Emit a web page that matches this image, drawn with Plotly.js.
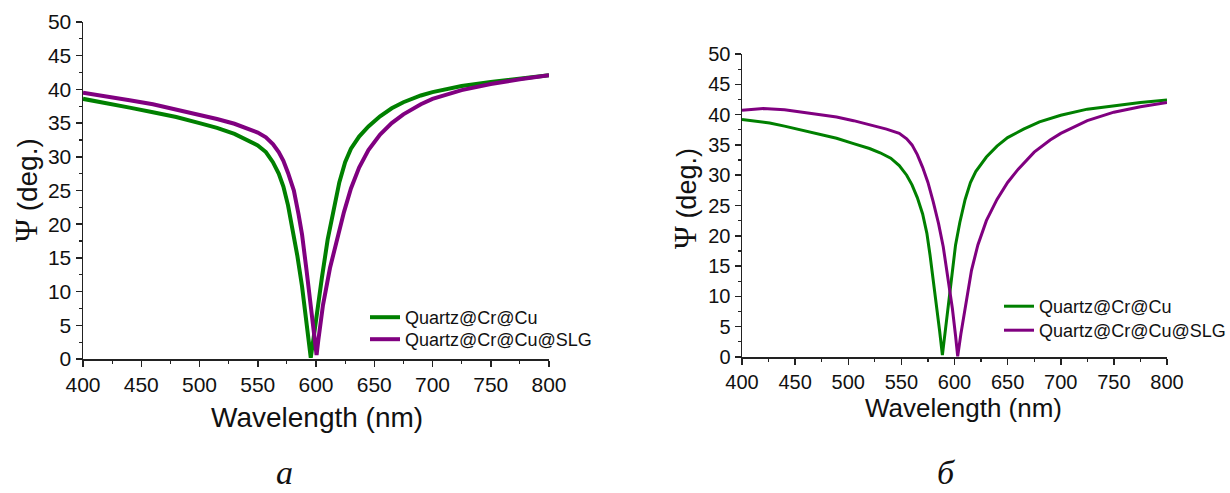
<!DOCTYPE html>
<html>
<head>
<meta charset="utf-8">
<script src="https://cdn.plot.ly/plotly-3.0.1.min.js"></script>
<style>html,body{margin:0;padding:0;background:#fff;}#chart{width:1230px;height:493px;}</style>
</head>
<body>
<div id="chart"></div>
<script>
// ---- Panel (а) data ----
const wlA_green = [400,420,440,460,480,500,515,530,540,550,557,563,568,572,576,580,584,588,592,595.5,598,601,605,610,615,620,625,630,637,645,655,665,675,690,700,725,750,775,800];
const psiA_green = [38.6,38.0,37.3,36.6,35.9,35.0,34.3,33.4,32.6,31.7,30.7,29.2,27.5,25.6,22.8,19.4,15.3,10.8,5.5,0.2,3.2,7.5,12.0,17.7,22.3,26.2,29.2,31.2,33.0,34.5,36.0,37.2,38.1,39.1,39.6,40.5,41.1,41.6,42.1];
const wlA_purple = [400,420,440,460,480,500,515,530,540,550,557,563,568,572,576,581,585,588,592,596,599,600.5,602,606,612,618,624,630,637,645,655,665,675,690,700,725,750,775,800];
const psiA_purple = [39.5,39.0,38.4,37.8,37.0,36.3,35.6,34.9,34.3,33.6,32.9,31.9,30.7,29.4,27.6,25.0,21.5,18.5,13.0,6.8,2.5,0.6,2.8,8.0,13.5,17.7,21.8,25.3,28.4,31.0,33.3,35.0,36.3,37.8,38.6,39.9,40.8,41.5,42.1];

// ---- Panel (б) data ----
const wlB_green = [400,410,426,440,458,475,489,505,520,530,540,548,555,560,565,570,574,577,580,583,586,588.6,591,594,597.5,601,605,610,615,620,630,640,650,665,680,700,725,750,775,800];
const psiB_green = [39.2,39.0,38.6,38.1,37.4,36.7,36.1,35.2,34.4,33.7,32.8,31.6,30.0,28.4,26.3,23.6,20.4,16.8,12.9,8.6,4.3,0.3,3.8,8.8,14.0,18.5,22.2,26.0,28.8,30.6,33.0,34.8,36.2,37.6,38.8,39.9,40.9,41.5,42.0,42.4];
const wlB_purple = [400,410,420,440,458,475,489,505,520,536,548,555,560,565,570,575,580,585,589.4,594,598,601,603,606,610,616,622,630,640,650,660,675,690,700,725,750,775,800];
const psiB_purple = [40.7,40.9,41.0,40.8,40.4,40.0,39.6,39.0,38.3,37.6,36.9,36.0,35.0,33.4,31.3,28.8,25.6,22.0,18.2,13.0,8.0,3.5,0.1,3.8,8.3,14.3,18.5,22.5,26.0,28.8,31.0,33.8,35.8,36.9,39.0,40.4,41.3,42.0];

const seriesNames = ['Quartz@Cr@Cu', 'Quartz@Cr@Cu@SLG'];
const xTitle = 'Wavelength (nm)';
const yTitle = '<span style="font-family:\'Liberation Serif\',\'Times New Roman\',serif;font-size:31px">Ψ</span> (deg.)';
const panelLabels = ['а', 'б'];

const GREEN = '#008000', PURPLE = '#800080';
const SANS = 'Liberation Sans, Arial, sans-serif';
const W = 1230, H = 493;
const px = v => v / W, py = v => (H - v) / H;

const traces = [
  {x: wlA_green, y: psiA_green, name: seriesNames[0], type: 'scatter', mode: 'lines', line: {color: GREEN, width: 4}, xaxis: 'x', yaxis: 'y', legend: 'legend'},
  {x: wlA_purple, y: psiA_purple, name: seriesNames[1], type: 'scatter', mode: 'lines', line: {color: PURPLE, width: 4}, xaxis: 'x', yaxis: 'y', legend: 'legend2'},
  {x: wlB_green, y: psiB_green, name: seriesNames[0], type: 'scatter', mode: 'lines', line: {color: GREEN, width: 3}, xaxis: 'x2', yaxis: 'y2', legend: 'legend3'},
  {x: wlB_purple, y: psiB_purple, name: seriesNames[1], type: 'scatter', mode: 'lines', line: {color: PURPLE, width: 3}, xaxis: 'x2', yaxis: 'y2', legend: 'legend4'}
];

function xax(domain, anchor, fs) {
  return {domain: domain, anchor: anchor, range: [400, 800], tick0: 400, dtick: 50,
    ticks: 'outside', ticklen: 6, tickwidth: 1.5, tickcolor: '#222',
    showline: true, linecolor: '#222', linewidth: 1.5, showgrid: false, zeroline: false,
    tickfont: {family: SANS, size: fs, color: '#111'},
    minor: {dtick: 25, ticks: 'outside', ticklen: 3, tickwidth: 1.2, tickcolor: '#222', showgrid: false}};
}
function yax(domain, anchor, fs) {
  return {domain: domain, anchor: anchor, range: [0, 50], tick0: 0, dtick: 5,
    ticks: 'outside', ticklen: 6, tickwidth: 1.5, tickcolor: '#222',
    showline: true, linecolor: '#222', linewidth: 1.5, showgrid: false, zeroline: false,
    tickfont: {family: SANS, size: fs, color: '#111'},
    minor: {dtick: 2.5, ticks: 'outside', ticklen: 3, tickwidth: 1.2, tickcolor: '#222', showgrid: false}};
}
function leg(xpx, ytop) {
  return {x: px(xpx), y: py(ytop), xanchor: 'left', yanchor: 'top', bgcolor: 'rgba(0,0,0,0)',
    font: {family: SANS, size: 18, color: '#111'}, borderwidth: 0};
}

const layout = {
  width: W, height: H,
  margin: {l: 0, r: 0, t: 0, b: 0, autoexpand: false},
  paper_bgcolor: '#fff', plot_bgcolor: 'rgba(0,0,0,0)',
  showlegend: true,
  xaxis: xax([px(83), px(549)], 'y', 21),
  yaxis: yax([py(359), py(22)], 'x', 21),
  xaxis2: xax([px(742), px(1167)], 'y2', 20),
  yaxis2: yax([py(357), py(54)], 'x2', 20),
  legend: leg(365, 299),
  legend2: leg(365, 321),
  legend3: leg(999, 288),
  legend4: leg(999, 312),
  annotations: [
    {text: xTitle, xref: 'paper', yref: 'paper', x: px(317), y: py(417), xanchor: 'center', yanchor: 'middle', showarrow: false, font: {family: SANS, size: 28, color: '#111'}},
    {text: xTitle, xref: 'paper', yref: 'paper', x: px(963), y: py(408), xanchor: 'center', yanchor: 'middle', showarrow: false, font: {family: SANS, size: 26, color: '#111'}},
    {text: yTitle, xref: 'paper', yref: 'paper', x: px(27), y: py(190), xanchor: 'center', yanchor: 'middle', textangle: -90, showarrow: false, font: {family: SANS, size: 28, color: '#111'}},
    {text: yTitle, xref: 'paper', yref: 'paper', x: px(685), y: py(199), xanchor: 'center', yanchor: 'middle', textangle: -90, showarrow: false, font: {family: SANS, size: 27, color: '#111'}},
    {text: '<i>' + panelLabels[0] + '</i>', xref: 'paper', yref: 'paper', x: px(284), y: py(472), xanchor: 'center', yanchor: 'middle', showarrow: false, font: {family: 'Liberation Serif, Times New Roman, serif', size: 34, color: '#111'}},
    {text: '<i>' + panelLabels[1] + '</i>', xref: 'paper', yref: 'paper', x: px(946), y: py(472), xanchor: 'center', yanchor: 'middle', showarrow: false, font: {family: 'Liberation Serif, Times New Roman, serif', size: 34, color: '#111'}}
  ]
};

Plotly.newPlot('chart', traces, layout, {staticPlot: true, displayModeBar: false});
</script>
</body>
</html>
